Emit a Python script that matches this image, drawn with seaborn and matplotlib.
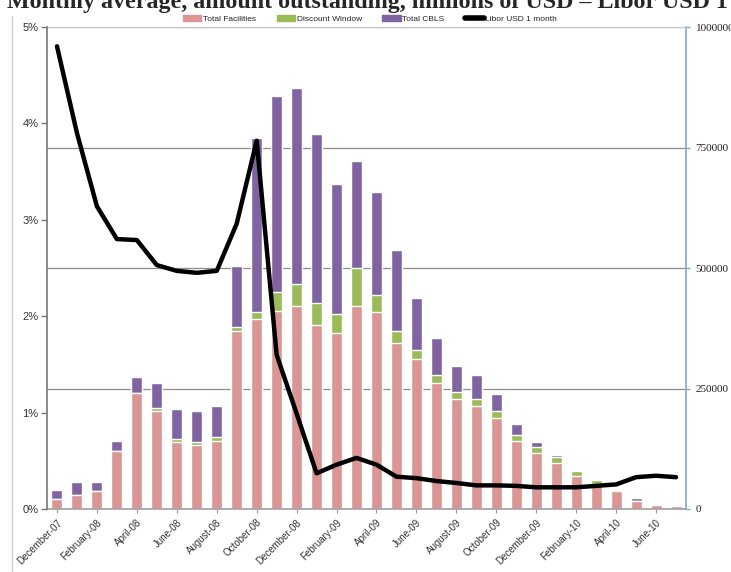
import numpy as np
import matplotlib
matplotlib.use("Agg")
import matplotlib.pyplot as plt
from matplotlib.patches import Patch
from matplotlib.lines import Line2D
import seaborn as sns

sns.set_style("white")
plt.rcParams['font.family'] = ['Liberation Sans', 'DejaVu Sans']

# months, Dec-07 .. Jul-10
months = ["December-07", "January-08", "February-08", "March-08", "April-08", "May-08",
          "June-08", "July-08", "August-08", "September-08", "October-08", "November-08",
          "December-08", "January-09", "February-09", "March-09", "April-09", "May-09",
          "June-09", "July-09", "August-09", "September-09", "October-09", "November-09",
          "December-09", "January-10", "February-10", "March-10", "April-10", "May-10",
          "June-10", "July-10"]

# millions of USD (right axis)
total_facilities = [21000, 30000, 37000, 121000, 241000, 203000, 138000, 133000, 142000,
                    369000, 394000, 411000, 421000, 381000, 365000, 421000, 409000, 345000,
                    311000, 261000, 228000, 214000, 189000, 141000, 117000, 95000, 69000,
                    52000, 37000, 17000, 8000, 5500]
discount_window = [0, 0, 0, 0, 0, 6000, 7000, 7000, 8000, 8000, 15000, 40000, 46000, 46000,
                   40000, 78000, 36000, 24000, 19000, 18000, 15000, 15000, 14000, 12000,
                   12000, 12000, 10000, 9000, 0, 0, 0, 0]
total_cbls = [18000, 25000, 18000, 20000, 32000, 52000, 62000, 63000, 64000, 128000, 360000,
              406000, 406000, 350000, 269000, 224000, 212000, 168000, 107000, 76000, 54000,
              50000, 36000, 23000, 10000, 4000, 0, 0, 0, 6000, 2000, 2000]

# Libor USD 1 month, % (left axis)
libor_1m = [4.80, 3.90, 3.14, 2.80, 2.79, 2.53, 2.47, 2.45, 2.47, 2.96, 3.82, 1.60, 0.99,
            0.37, 0.46, 0.53, 0.46, 0.335, 0.32, 0.29, 0.27, 0.245, 0.245, 0.24, 0.225,
            0.225, 0.225, 0.24, 0.255, 0.33, 0.345, 0.33]

pink = '#D99694'
green = '#9BBB59'
purple = '#8064A2'

fac = np.array(total_facilities)
fac_dw = fac + np.array(discount_window)
fac_dw_cbls = fac_dw + np.array(total_cbls)

fig = plt.figure(figsize=(7.31, 5.72), dpi=100)
ax = fig.add_axes([47 / 731, 1 - 509 / 572, 639 / 731, 482 / 572])
ax_l = ax.twinx()   # percent axis, drawn on top of the bars

# stacked bars drawn as cumulative totals
sns.barplot(x=months, y=fac_dw_cbls, color=purple, saturation=1, width=0.55, ax=ax)
sns.barplot(x=months, y=fac_dw, color=green, saturation=1, width=0.55, ax=ax)
sns.barplot(x=months, y=fac, color=pink, saturation=1, width=0.55, ax=ax)

ax.set_ylim(0, 1000000)
ax.set_yticks([0, 250000, 500000, 750000, 1000000])
ax.set_yticklabels(["0", "250000", "500000", "750000", "1000000"],
                   family=['Liberation Serif', 'DejaVu Serif'], fontsize=8, color='#222222')
ax.yaxis.tick_right()
ax.tick_params(axis='y', left=False, right=True, labelleft=False, labelright=True,
               length=3, width=1, color='#7EA6D8', pad=4)
ax.yaxis.grid(True, color='#8c8c8c', linewidth=0.9)
ax.set_axisbelow(True)
ax.set_ylabel("")
ax.set_xlabel("")

ax.set_xticks(range(0, len(months), 2))
ax.set_xticklabels(months[::2], rotation=45, ha='right', rotation_mode='anchor',
                   fontsize=7, color='#333333')
ax.tick_params(axis='x', bottom=True, length=3, width=0.8, color='#999999', pad=3)
ax.set_xlim(-0.5, len(months) - 0.5)

ax.spines['left'].set_visible(False)
ax.spines['right'].set_color('#7EA6D8')
ax.spines['right'].set_linewidth(1.2)
ax.spines['top'].set_color('#c8c8c8')
ax.spines['bottom'].set_color('#a0a0a0')
ax.spines['bottom'].set_linewidth(1.2)

# Libor line on the left (percent) axis
sns.lineplot(x=np.arange(len(months)), y=libor_1m, color='black', linewidth=3.2, ax=ax_l)
ax_l.set_ylim(0, 5)
ax_l.set_yticks(range(0, 6))
ax_l.set_yticklabels([f"{v}%" for v in range(0, 6)], fontsize=8, color='#333333')
ax_l.yaxis.tick_left()
ax_l.tick_params(axis='y', left=True, right=False, labelleft=True, labelright=False,
                 length=4, width=1, color='#777777', pad=2)
ax_l.set_ylabel("")
ax_l.set_xlim(-0.5, len(months) - 0.5)
for side in ['right', 'top', 'bottom']:
    ax_l.spines[side].set_visible(False)
ax_l.spines['left'].set_color('#777777')
ax_l.spines['left'].set_linewidth(1.2)

handles = [Patch(color=pink), Patch(color=green), Patch(color=purple),
           Line2D([0], [0], color='black', linewidth=4)]
labels = ["Total Facilities", "Discount Window", "Total CBLS", "Libor USD 1 month"]
fig.legend(handles, labels, loc='center', bbox_to_anchor=(370 / 731, 1 - 19 / 572), ncol=4,
           frameon=False, fontsize=6, handlelength=2.2, handleheight=0.6, handletextpad=0.2,
           columnspacing=2.5)

fig.text(7 / 731, 1 - 8 / 572, "Monthly average, amount outstanding, millions of USD \u2013 Libor USD 1",
         ha='left', va='baseline', fontsize=17.3, fontweight='bold',
         family=['Liberation Serif', 'DejaVu Serif'])

# frame edge on the left of the slide
fig.add_artist(Line2D([12 / 731, 12 / 731], [0, 1 - 16 / 572], color='#cccccc', linewidth=1))

fig.savefig("out.png", dpi=100)
